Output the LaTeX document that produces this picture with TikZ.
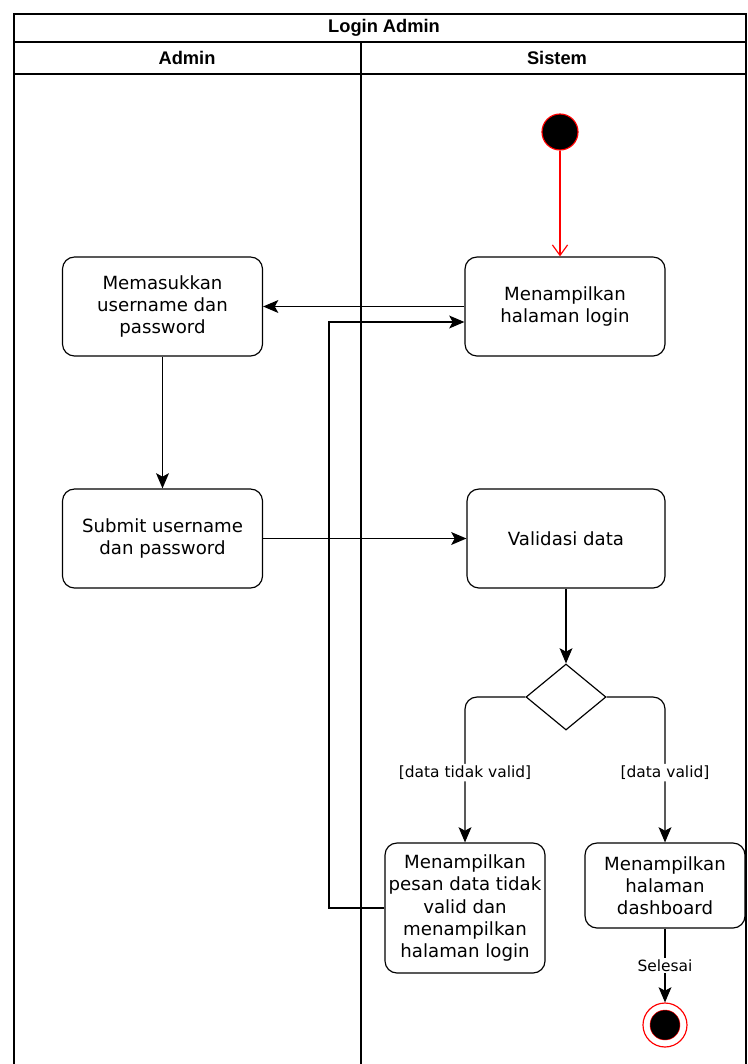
\documentclass[tikz,border=0pt]{standalone}
\usepackage{fontspec}
\setmainfont{DejaVu Sans}
\newfontfamily\hdrfont{Liberation Sans}
\usetikzlibrary{arrows.meta,shapes.geometric}

\begin{document}
\begin{tikzpicture}[x=0.03cm,y=-0.03cm,line width=1pt,>={Stealth[length=13pt,width=11pt,inset=3pt]},
  act/.style={draw,rounded corners=0.36cm,align=center,inner sep=0pt,font=\fontsize{15.5}{18.8}\selectfont},
  hdr/.style={font=\hdrfont\bfseries\fontsize{15.6}{18}\selectfont},
  lbl/.style={fill=white,inner sep=1.5pt,font=\fontsize{13.2}{15}\selectfont}]
\useasboundingbox (0,0) rectangle (747,1064);
\draw (14,1064)--(14,14)--(746,14)--(746,1064);
\draw (14,42)--(746,42) (14,74)--(746,74) (361,42)--(361,1064);
\node[hdr] (judul) at (384,28) {Login Admin};
\node[hdr] (admin) at (187,58) {Admin};
\node[hdr] (sistem) at (557,58) {Sistem};
\node[circle,draw=red,fill=black,minimum size=1.08cm,inner sep=0pt] (mulai) at (560,132) {};
\node[act,minimum width=6cm,minimum height=2.97cm] (login) at (565,306.5) {Menampilkan\\halaman login};
\node[act,minimum width=6cm,minimum height=2.97cm] (masuk) at (162.5,306.5) {Memasukkan\\username dan\\password};
\node[act,minimum width=6cm,minimum height=2.97cm] (submit) at (162.5,538.5) {Submit username\\dan password};
\node[act,minimum width=5.94cm,minimum height=2.97cm] (valid) at (566,538.5) {Validasi data};
\node[diamond,draw,minimum width=2.4cm,minimum height=1.98cm,inner sep=0pt] (dec) at (566,697) {};
\node[act,minimum width=4.8cm,minimum height=3.9cm] (pesan) at (465,908) {Menampilkan\\pesan data tidak\\valid dan\\menampilkan\\halaman login};
\node[act,minimum width=4.8cm,minimum height=2.55cm] (dash) at (665,885.5) {Menampilkan\\halaman\\dashboard};
\node[circle,draw=red,fill=white,minimum size=1.32cm,inner sep=0pt,
  path picture={\fill[black,draw=red,line width=0.4pt] (path picture bounding box.center) circle (0.45cm);}] (selesai) at (665,1025) {};
\coordinate (balik) at (329,322);
\draw[red,-{Straight Barb[length=9pt,width=13pt]}] (mulai) -- (mulai |- login.north);
\draw[->] (login.west) -- (masuk.east);
\draw[->] (masuk) -- (submit);
\draw[->] (submit) -- (valid);
\draw[->] (valid) -- (dec);
\draw[->,rounded corners=0.36cm] (dec.west) -| node[lbl,pos=0.76]{[data tidak valid]} (pesan.north);
\draw[->,rounded corners=0.36cm] (dec.east) -| node[lbl,pos=0.76]{[data valid]} (dash.north);
\draw[->] (dash) -- node[lbl]{Selesai} (selesai);
\draw[->] (pesan.west) -| (balik) -- (balik -| login.west);
\end{tikzpicture}
\end{document}
